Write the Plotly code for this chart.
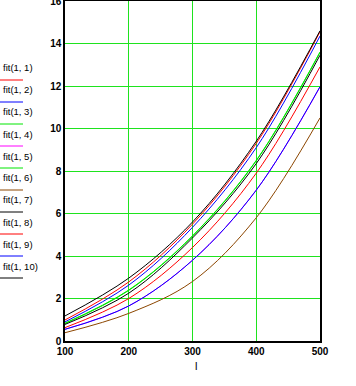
import plotly.graph_objects as go

# ---- data ----
x_vals = [100, 200, 300, 400, 500]

fit_1_1 = [0.99, 2.78, 5.50, 9.30, 14.55]
fit_1_2 = [0.90, 2.63, 5.35, 9.10, 14.35]
fit_1_3 = [0.84, 2.40, 4.95, 8.50, 13.60]
fit_1_4 = [0.55, 1.65, 3.80, 7.10, 11.95]
fit_1_5 = [0.82, 2.38, 4.93, 8.48, 13.58]
fit_1_6 = [0.39, 1.30, 2.80, 5.80, 10.50]
fit_1_7 = [1.18, 2.96, 5.60, 9.40, 14.60]
fit_1_8 = [0.63, 2.00, 4.40, 7.90, 12.90]
fit_1_9 = [0.55, 1.65, 3.80, 7.10, 11.97]
fit_1_10 = [0.78, 2.25, 4.85, 8.35, 13.45]

series_names = ["fit(1, 1)", "fit(1, 2)", "fit(1, 3)", "fit(1, 4)", "fit(1, 5)",
                "fit(1, 6)", "fit(1, 7)", "fit(1, 8)", "fit(1, 9)", "fit(1, 10)"]
series_values = [fit_1_1, fit_1_2, fit_1_3, fit_1_4, fit_1_5,
                 fit_1_6, fit_1_7, fit_1_8, fit_1_9, fit_1_10]

x_ticks = [100, 200, 300, 400, 500]
y_ticks = [0, 2, 4, 6, 8, 10, 12, 14, 16]
x_title = "l"

# ---- styles ----
colors = ["#ff0000", "#0000ff", "#00e600", "#ff00ff", "#00e600",
          "#8c4600", "#000000", "#ff0000", "#0000ff", "#000000"]
grid_color = "#1ee31e"

W, H = 356, 386
L, R, T, B = 65, 36, 1, 45
pw, ph = W - L - R, H - T - B

def px_to_paper_x(px):
    return (px - L) / pw

def px_to_paper_y(py):
    return (H - B - py) / ph

fig = go.Figure()
for name, vals, col in zip(series_names, series_values, colors):
    fig.add_trace(go.Scatter(x=x_vals, y=vals, mode="lines", name=name,
                             line=dict(color=col, width=1, shape="spline"),
                             showlegend=False))

# custom legend: label above a short coloured line
annotations = []
shapes = []
for i, (name, col) in enumerate(zip(series_names, colors)):
    ly = 68 + 22 * i
    sy = 80 + 22 * i
    annotations.append(dict(text=name, xref="paper", yref="paper",
                            x=px_to_paper_x(1), y=px_to_paper_y(ly),
                            xanchor="left", yanchor="middle", showarrow=False,
                            font=dict(family="Liberation Sans", size=9.5, color="black")))
    shapes.append(dict(type="line", xref="paper", yref="paper",
                       x0=px_to_paper_x(0), x1=px_to_paper_x(23),
                       y0=px_to_paper_y(sy), y1=px_to_paper_y(sy),
                       line=dict(color=col, width=1)))

# x-axis title as annotation
annotations.append(dict(text=x_title, xref="paper", yref="paper",
                        x=px_to_paper_x(196), y=px_to_paper_y(366),
                        xanchor="center", yanchor="middle", showarrow=False,
                        font=dict(family="Liberation Sans", size=11, color="black")))

fig.update_layout(
    width=W, height=H,
    margin=dict(l=L, r=R, t=T, b=B, autoexpand=False),
    paper_bgcolor="white", plot_bgcolor="white",
    annotations=annotations, shapes=shapes,
    font=dict(family="Liberation Sans", color="black"),
)
fig.update_xaxes(range=[100, 500], tickvals=x_ticks, ticktext=[str(v) for v in x_ticks],
                 showgrid=True, gridcolor=grid_color, gridwidth=1,
                 showline=True, linecolor="black", linewidth=1.5, mirror=True,
                 zeroline=False, ticks="", automargin=False, ticklabeloverflow="allow",
                 tickfont=dict(family="Liberation Sans", size=10, color="black", weight="bold"))
fig.update_yaxes(range=[0, 16], tickvals=y_ticks, ticktext=[str(v) for v in y_ticks],
                 showgrid=True, gridcolor=grid_color, gridwidth=1,
                 showline=True, linecolor="black", linewidth=1.5, mirror=True,
                 zeroline=False, ticks="", automargin=False, ticklabeloverflow="allow",
                 tickfont=dict(family="Liberation Sans", size=10, color="black", weight="bold"))

fig.write_html("out.html",
               config={"displayModeBar": False},
               post_script="document.body.style.margin='0px';document.body.style.overflow='hidden';")
